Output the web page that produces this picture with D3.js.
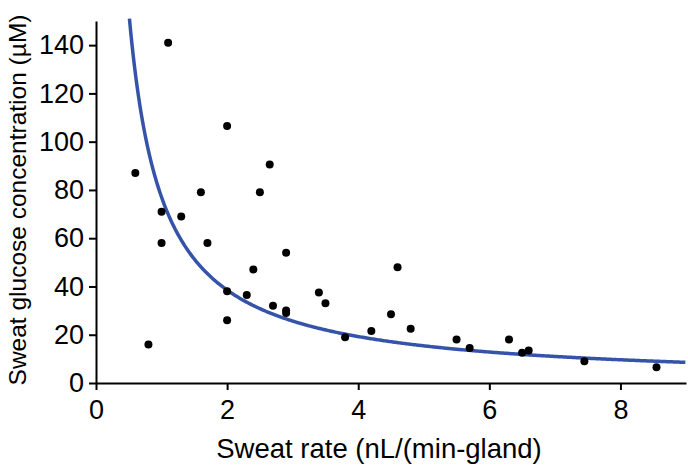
<!DOCTYPE html>
<html><head><meta charset="utf-8">
<script src="https://cdn.jsdelivr.net/npm/d3@7"></script>
<style>body{margin:0;background:#fff}svg{display:block}text{font-family:"Liberation Sans",Arial,sans-serif}</style>
</head><body>
<svg id="c" width="688" height="468"></svg>
<script>
const sweatRate = [0.6,0.8,1.1,1.0,1.3,1.0,1.7,1.6,2.5,2.0,2.65,2.9,2.4,2.0,2.3,2.7,2.9,2.9,2.0,3.4,3.5,4.6,4.5,4.8,4.2,3.8,5.5,5.7,6.3,6.5,6.6,7.45,8.55];
const glucose   = [87,16,141,71,69,58,58,79,79,106.5,90.5,54,47,38,36.5,32,30,29,26,37.5,33,48,28.5,22.5,21.5,19,18,14.5,18,12.5,13.5,9,6.5];
const xTicks = [0,2,4,6,8];
const yTicks = [0,20,40,60,80,100,120,140];
const fitK = 77; // fitted curve y = fitK / x
const fitX = d3.range(0.51, 9.001, 0.02);

const svg = d3.select("#c");
const x = d3.scaleLinear().domain([0,9]).range([96,686]);
const y = d3.scaleLinear().domain([0,150]).range([383,21]);

const xAxis = svg.append("g").attr("transform","translate(0,383)")
  .call(d3.axisBottom(x).tickValues(xTicks).tickSize(7).tickSizeOuter(0).tickPadding(10));
const yAxis = svg.append("g").attr("transform","translate(96,0)")
  .call(d3.axisLeft(y).tickValues(yTicks).tickSize(7).tickSizeOuter(0).tickPadding(5));
[xAxis,yAxis].forEach(g=>{
  g.select(".domain").attr("stroke","#000").attr("stroke-width",2);
  g.selectAll(".tick line").attr("stroke","#000").attr("stroke-width",2);
  g.selectAll(".tick text").attr("fill","#000").style("font-size","27px").style("font-family","'Liberation Sans',Arial,sans-serif");
});

svg.append("path")
  .datum(fitX)
  .attr("fill","none").attr("stroke","#3553a8").attr("stroke-width",3.5)
  .attr("d", d3.line().x(d=>x(d)).y(d=>y(fitK/d)));

svg.append("g").selectAll("circle").data(sweatRate).join("circle")
  .attr("cx",(d,i)=>x(d)).attr("cy",(d,i)=>y(glucose[i])).attr("r",4).attr("fill","#000");

svg.append("text").attr("x",379).attr("y",458).attr("text-anchor","middle")
  .style("font-size","27.5px").text("Sweat rate (nL/(min-gland)");
svg.append("text").attr("transform","translate(26,200) rotate(-90)").attr("text-anchor","middle")
  .style("font-size","24.5px").text("Sweat glucose concentration (µM)");
</script>
</body></html>
